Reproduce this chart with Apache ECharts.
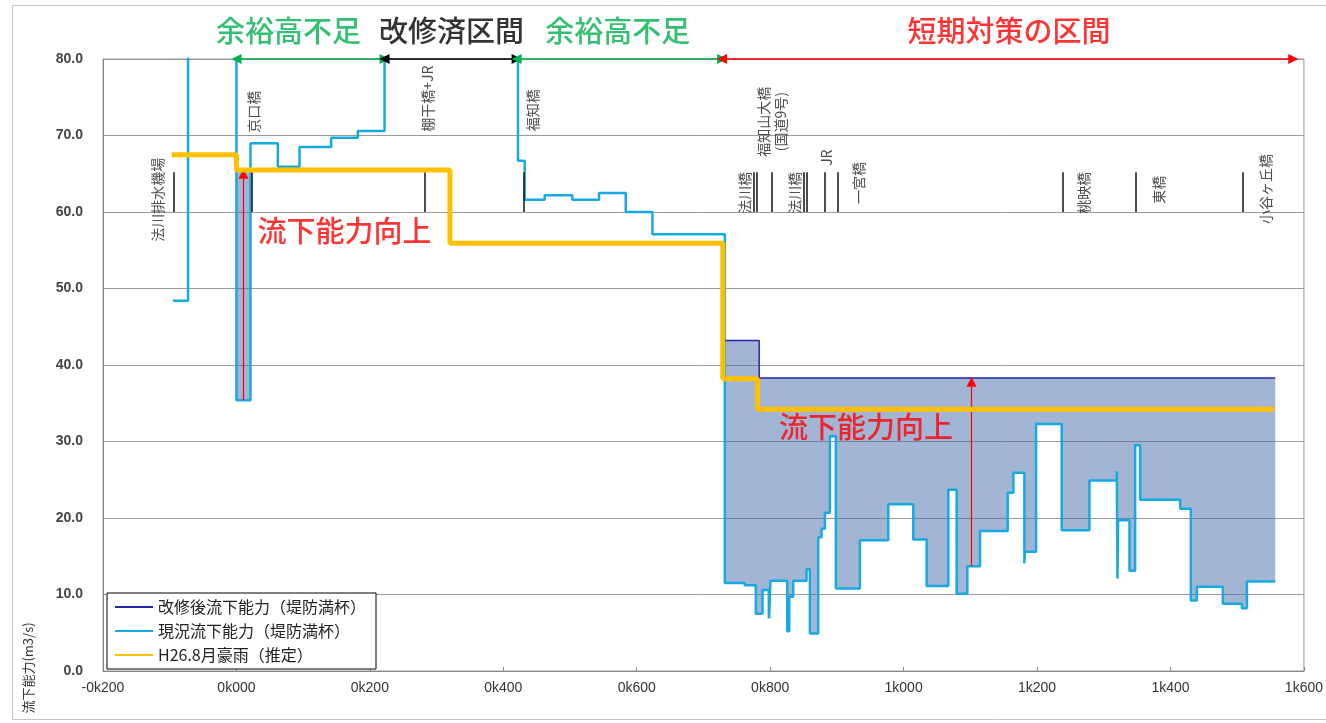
<!DOCTYPE html>
<html>
<head>
<meta charset="utf-8">
<script src="https://cdn.jsdelivr.net/npm/echarts@6/dist/echarts.min.js"></script>
<style>
html, body { margin: 0; padding: 0; background: #fff; }
#main { width: 1326px; height: 723px; }
</style>
</head>
<body>
<div id="main"></div>
<script>
// 距離標 (m) と流下能力 (m3/s) - 値はその地点から次の地点まで続く階段状
var currentKm = [-95, -72.5, 0, 21, 62, 94.5, 142, 182, 222, 422, 432, 462, 503.5, 543.5, 583.5, 623.5,
    732, 762, 778.5, 788.5, 798, 800.5, 825.5, 828.5, 834.5, 854.5, 859.5, 872, 877, 882, 889.5, 898.5,
    934.5, 977, 1014.5, 1034.5, 1067, 1079.5, 1095.5, 1114.5, 1156, 1164.5, 1181, 1182, 1198.5, 1237,
    1278.5, 1319.5, 1320.5, 1321.5, 1338.5, 1347, 1354.5, 1414.5, 1430.5, 1439.5, 1478.5, 1507, 1514.5, 1557];
var currentCap = [48.4, 95, 35.4, 69.0, 65.9, 68.5, 69.7, 70.6, 95, 66.7, 61.6, 62.2, 61.6, 62.5, 60.0, 57.1,
    11.5, 11.2, 7.5, 10.6, 6.9, 11.8, 5.2, 9.7, 11.8, 13.3, 4.9, 17.5, 18.6, 20.7, 30.7, 10.8,
    17.1, 21.8, 17.2, 11.1, 23.7, 10.1, 13.7, 18.3, 23.3, 25.9, 14.1, 15.6, 32.3, 18.4,
    24.9, 26.1, 12.1, 19.7, 13.1, 29.5, 22.4, 21.2, 9.2, 11.0, 8.8, 8.2, 11.7, 11.7];

var improvedKm = [0, 21, 21, 732, 783.5, 1557];
var improvedCap = [65.5, 65.5, '-', 43.2, 38.3, 38.3];

var floodKm = [-97, 0, 320, 729, 781, 1555];
var floodCap = [67.5, 65.5, 55.9, 38.2, 34.2, 34.2];

var fillFrom = [0, 732];
var fillTo = [21, 1557];

var arrowKm = [10.5, 1101.7];
var arrowFrom = [35.4, 13.7];
var arrowTo = [65.0, 37.8];

var bridgeLineKm = [-94.5, 22.5, 282, 430.5, 775, 779.5, 802.5, 850, 855, 882, 901.5, 1239, 1348.5, 1509];
var bridgeNames = ['法川排水機場', '京口橋', '棚干橋+JR', '福知橋', '法川橋', '福知山大橋\n(国道9号)', '法川橋', 'JR', '一宮橋', '桃映橋', '東橋', '小谷ヶ丘橋'];
var bridgeLabelKm = [-118.5, 25.5, 286.5, 444, 762, 802.5, 837, 885, 933, 1270.5, 1383, 1542];
var bridgeLabelCap = [61.6, 73.1, 74.8, 73.3, 62.5, 71.8, 62.5, 67.1, 63.8, 62.5, 62.9, 63.0];

var sectionNames = ['余裕高不足', '改修済区間', '余裕高不足', '短期対策の区間'];
var sectionFrom = [0, 222, 420, 728];
var sectionTo = [222, 420, 728, 1584];
var sectionLabelKm = [78, 322.5, 571.5, 1158];
var sectionColors = ['#00b050', '#000000', '#00b050', '#ff0000'];

var upText = '流下能力向上';
var upLabelKm = [162, 943.5];
var upLabelCap = [57.5, 31.9];

var kmMin = -200, kmMax = 1600, kmStep = 200;
var capMin = 0, capMax = 80, capStep = 10;

var CJK = "'Noto Sans CJK JP', sans-serif";
var NUM = "'Liberation Sans', Arial, sans-serif";

function pairs(xs, vs) {
    return xs.map(function (x, i) { return [x, vs[i]]; });
}

function valueAt(xs, vs, x) {
    var v = null;
    for (var i = 0; i < xs.length; i++) {
        if (xs[i] <= x && typeof vs[i] === 'number') v = vs[i];
    }
    return v;
}

function stepPts(xs, vs, x0, x1) {
    var v = valueAt(xs, vs, x0);
    var pts = [[x0, v]];
    for (var i = 0; i < xs.length; i++) {
        if (xs[i] > x0 && xs[i] < x1 && typeof vs[i] === 'number') {
            pts.push([xs[i], v]);
            v = vs[i];
            pts.push([xs[i], v]);
        }
    }
    pts.push([x1, v]);
    return pts;
}

function kmLabel(v) {
    var a = Math.abs(v);
    var r = String(a % 1000);
    while (r.length < 3) r = '0' + r;
    return (v < 0 ? '-' : '') + Math.floor(a / 1000) + 'k' + r;
}

var chart = echarts.init(document.getElementById('main'));

chart.setOption({
    animation: false,
    backgroundColor: '#fff',
    grid: {
        left: 103, right: 22, top: 59, bottom: 52,
        show: true, borderColor: '#999', borderWidth: 1
    },
    xAxis: {
        type: 'value', min: kmMin, max: kmMax, interval: kmStep,
        axisLine: { show: true, onZero: false, lineStyle: { color: '#888' } },
        axisTick: { show: true, inside: true, length: 4, lineStyle: { color: '#888' } },
        splitLine: { show: false },
        axisLabel: {
            formatter: kmLabel, color: '#333', fontSize: 14, fontFamily: NUM, margin: 10
        }
    },
    yAxis: {
        type: 'value', min: capMin, max: capMax, interval: capStep,
        axisLine: { show: true, onZero: false, lineStyle: { color: '#888' } },
        axisTick: { show: false },
        splitLine: { show: true, lineStyle: { color: '#9a9a9a', width: 1 } },
        axisLabel: {
            formatter: function (v) { return v.toFixed(1); },
            color: '#444', fontSize: 14, fontWeight: 'bold', fontFamily: NUM, margin: 20
        }
    },
    legend: {
        orient: 'vertical', left: 107, top: 593,
        data: ['改修後流下能力（堤防満杯）', '現況流下能力（堤防満杯）', 'H26.8月豪雨（推定）'],
        icon: 'rect', itemWidth: 38, itemHeight: 2, itemGap: 8,
        padding: [6, 10, 6, 8],
        backgroundColor: '#fff', borderColor: '#000', borderWidth: 1, borderRadius: 0,
        textStyle: { fontSize: 16, color: '#222', fontFamily: CJK }
    },
    graphic: [
        {
            type: 'rect', z: -10, silent: true,
            shape: { x: 12.5, y: 5.5, width: 1400, height: 714 },
            style: { fill: 'none', stroke: '#c4c4c4', lineWidth: 1 }
        },
        {
            type: 'text', x: 28, y: 668, rotation: Math.PI / 2,
            style: { text: '流下能力(m3/s)', fontSize: 13, fill: '#333', fontFamily: CJK, align: 'center', verticalAlign: 'middle' }
        }
    ],
    series: [
        {
            name: 'fill',
            type: 'custom',
            z: 1,
            silent: true,
            clip: true,
            data: fillFrom.map(function (f, i) { return [f, fillTo[i], 0]; }),
            encode: { x: [0, 1], y: 2 },
            renderItem: function (params, api) {
                var x0 = fillFrom[params.dataIndex], x1 = fillTo[params.dataIndex];
                var upper = stepPts(improvedKm, improvedCap, x0, x1);
                var lower = stepPts(currentKm, currentCap, x0, x1).reverse();
                var pts = upper.concat(lower).map(function (p) { return api.coord(p); });
                return {
                    type: 'polygon',
                    shape: { points: pts },
                    style: { fill: 'rgba(72,108,172,0.5)', stroke: null }
                };
            }
        },
        {
            name: '現況流下能力（堤防満杯）',
            type: 'line', step: 'end', z: 3,
            color: '#17a9e1',
            showSymbol: false, symbol: 'none',
            lineStyle: { width: 2.5, color: '#17a9e1' },
            data: pairs(currentKm, currentCap)
        },
        {
            name: '改修後流下能力（堤防満杯）',
            type: 'line', step: 'end', z: 4,
            color: '#2323b0',
            showSymbol: false, symbol: 'none', connectNulls: false,
            lineStyle: { width: 1.5, color: '#2323b0' },
            data: pairs(improvedKm, improvedCap)
        },
        {
            name: 'H26.8月豪雨（推定）',
            type: 'line', step: 'end', z: 5,
            color: '#ffc000',
            showSymbol: false, symbol: 'none',
            lineStyle: { width: 5, color: '#ffc000' },
            data: pairs(floodKm, floodCap)
        },
        {
            name: 'marks',
            type: 'line', z: 6, clip: false, silent: true,
            data: [],
            markLine: {
                silent: true, animation: false,
                symbol: 'none',
                label: { show: false },
                lineStyle: { color: '#111', width: 1.5, type: 'solid' },
                emphasis: { disabled: true },
                data: bridgeLineKm.map(function (k) {
                    return [{ coord: [k, 60] }, { coord: [k, 65.2] }];
                })
            }
        },
        {
            name: 'arrows',
            type: 'line', z: 7, clip: false, silent: true,
            color: '#ff0000',
            data: [],
            markLine: {
                silent: true, animation: false,
                symbol: ['none', 'triangle'], symbolSize: 10,
                label: { show: false },
                lineStyle: { color: '#ff0000', width: 1.2, type: 'solid' },
                itemStyle: { color: '#ff0000' },
                emphasis: { disabled: true },
                data: arrowKm.map(function (k, i) {
                    return [
                        { coord: [k, arrowFrom[i]], lineStyle: { color: '#ff0000', width: 1.2, opacity: 1 } },
                        { coord: [k, arrowTo[i]] }
                    ];
                })
            }
        },
        {
            name: 'sections',
            type: 'line', z: 8, clip: false, silent: true,
            data: [],
            markLine: {
                silent: true, animation: false,
                symbol: ['triangle', 'triangle'], symbolSize: 10,
                label: { show: false },
                emphasis: { disabled: true },
                data: sectionFrom.map(function (f, i) {
                    return [
                        { coord: [f, capMax], lineStyle: { color: sectionColors[i], width: 1.5, type: 'solid' }, itemStyle: { color: sectionColors[i] } },
                        { coord: [sectionTo[i], capMax] }
                    ];
                })
            }
        },
        {
            name: 'sectionLabels',
            type: 'scatter', z: 9, clip: false, silent: true,
            symbolSize: 1, itemStyle: { color: 'rgba(0,0,0,0)' },
            data: sectionNames.map(function (n, i) {
                return {
                    value: [sectionLabelKm[i], capMax], name: n,
                    label: { color: sectionColors[i] }
                };
            }),
            label: {
                show: true, position: 'inside', offset: [0, -28],
                formatter: function (p) { return p.name; },
                fontSize: 29, fontWeight: 500, fontFamily: CJK
            }
        },
        {
            name: 'bridgeLabels',
            type: 'scatter', z: 9, clip: false, silent: true,
            symbolSize: 1, itemStyle: { color: 'rgba(0,0,0,0)' },
            data: bridgeNames.map(function (n, i) {
                return { value: [bridgeLabelKm[i], bridgeLabelCap[i]], name: n };
            }),
            label: {
                show: true, position: 'inside', rotate: 90,
                formatter: function (p) { return p.name; },
                fontSize: 14, color: '#222', fontFamily: CJK, lineHeight: 17, align: 'center'
            }
        },
        {
            name: 'upLabels',
            type: 'scatter', z: 9, clip: false, silent: true,
            symbolSize: 1, itemStyle: { color: 'rgba(0,0,0,0)' },
            data: upLabelKm.map(function (k, i) {
                return { value: [k, upLabelCap[i]], name: upText };
            }),
            label: {
                show: true, position: 'inside',
                formatter: function (p) { return p.name; },
                fontSize: 29, fontWeight: 500, color: '#ff0000', fontFamily: CJK
            }
        }
    ]
});
</script>
</body>
</html>
